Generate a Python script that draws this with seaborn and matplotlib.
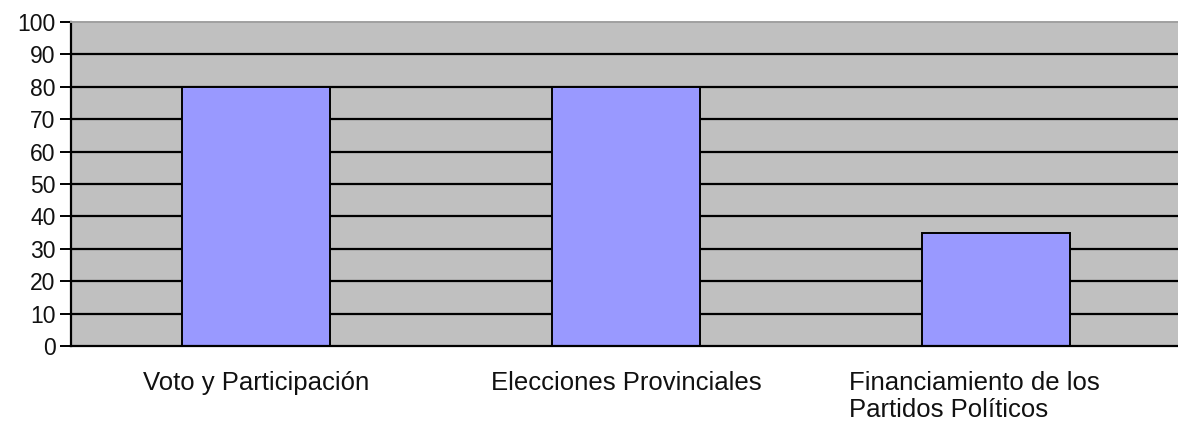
import matplotlib
matplotlib.use("Agg")
import matplotlib.pyplot as plt
import matplotlib.transforms as mtransforms
import seaborn as sns
import pandas as pd
import numpy as np

categories = ["Voto y Participación", "Elecciones Provinciales", "Financiamiento de los\nPartidos Políticos"]
values = [80, 80, 35]
yticks = list(range(0, 101, 10))

sns.set_style("white")
plt.rcParams['font.family'] = ['Liberation Sans', 'DejaVu Sans']

df = pd.DataFrame({"cat": categories, "val": values})

fig = plt.figure(figsize=(11.78, 4.24), dpi=100)
ax = fig.add_axes([71/1178, 78/424, 1110/1178, 324/424])
ax.set_facecolor("#C0C0C0")
ax.set_axisbelow(True)
for y in yticks[1:-1]:
    ax.axhline(y, color="black", lw=1.6, zorder=0.5)

sns.barplot(data=df, x="cat", y="val", color="#9999FF", width=0.4,
            edgecolor="black", linewidth=1.4, saturation=1, ax=ax, zorder=2)

ax.set_xlim(-0.5, 2.5)
ax.set_ylim(0, 100)
ax.set_yticks(yticks)
ax.set_yticklabels([str(t) for t in yticks], fontsize=16.5, color="#111111")
ax.set_xlabel("")
ax.set_ylabel("")
ax.set_xticks([0, 1, 2])
ax.set_xticklabels(categories, fontsize=18.5, multialignment="left", linespacing=1.15,
                   color="#111111")
ax.set_xticks([-0.5, 0.5, 1.5, 2.5], minor=True)
ax.tick_params(axis="x", which="major", length=0, pad=18)
ax.tick_params(axis="x", which="minor", length=8, width=1.4, color="black", direction="out")
ax.tick_params(axis="y", length=8, width=1.4, color="black", direction="out", pad=3, left=True)
labs = ax.get_xticklabels()
for lab in labs:
    lab.set_verticalalignment("top")
offset = mtransforms.ScaledTranslation(-0.22, 0, fig.dpi_scale_trans)
labs[2].set_transform(labs[2].get_transform() + offset)

for s in ["left", "bottom"]:
    ax.spines[s].set_color("black")
    ax.spines[s].set_linewidth(1.6)
ax.spines["top"].set_color("#A0A0A0")
ax.spines["top"].set_linewidth(1.4)
ax.spines["right"].set_visible(False)

fig.savefig("out.png", dpi=100)
